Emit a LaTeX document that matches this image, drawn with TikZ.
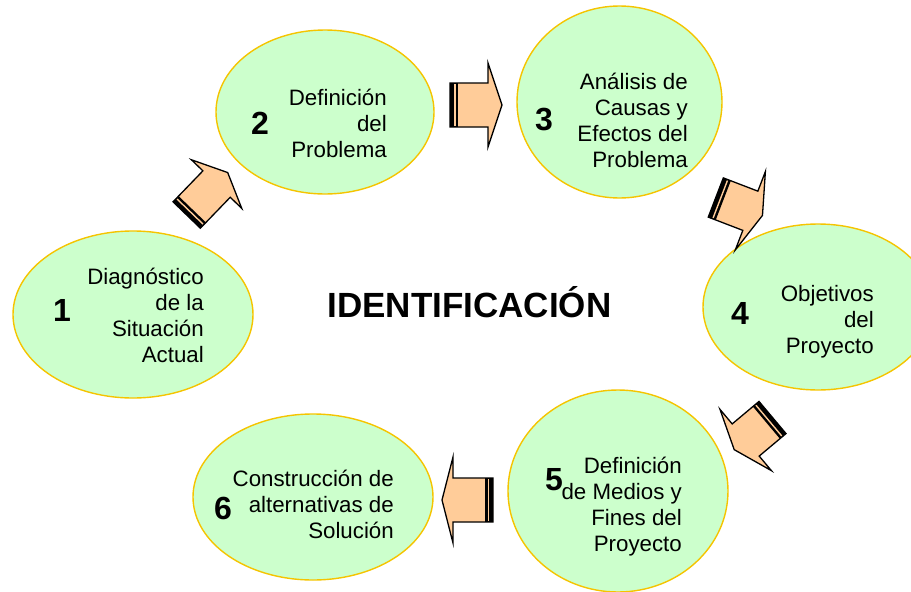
\documentclass[tikz,border=0pt]{standalone}
\usepackage{fontspec}
\setmainfont{Liberation Sans}
\usetikzlibrary{shapes.geometric}
\definecolor{nodefill}{HTML}{CCFFCC}
\definecolor{nodeedge}{HTML}{F5C400}
\definecolor{arrowfill}{HTML}{FFCC99}
\tikzset{
  stage/.style={ellipse, draw=nodeedge, fill=nodefill, line width=1.4pt, inner sep=0pt},
  labeltxt/.style={anchor=base east, align=right, inner sep=0pt, font=\fontsize{22.3}{26}\selectfont},
  num/.style={inner sep=0pt, font=\bfseries\fontsize{32}{36}\selectfont},
  maintitle/.style={anchor=base, inner sep=0pt, font=\bfseries\fontsize{35}{40}\selectfont},
  arrbody/.style={fill=arrowfill, draw=black, line width=1.3pt, line join=miter, miter limit=10},
}
% name, x, y, rotation, body length, total length, body half width, head half width
\newcommand{\blockarr}[8]{%
  \begin{scope}[shift={(#2,#3)}, rotate=#4]
    \coordinate (#1) at (0,0);
    \filldraw[arrbody] (0,-#7) -- (#5,-#7) -- (#5,-#8) -- (#6,0) -- (#5,#8) -- (#5,#7) -- (0,#7) -- cycle;
    \fill[black] (0,-#7) rectangle (8,#7);
    \draw[arrowfill, line width=1.4pt] (4.8,-#7+1) -- (4.8,#7-1);
  \end{scope}}
\begin{document}
\begin{tikzpicture}[x=1pt, y=-1pt]
\useasboundingbox (0,0) rectangle (911,592);
\clip (0,0) rectangle (911,592);
% stages
\node[stage, minimum width=240, minimum height=167] (e1) at (133,314.5) {};
\node[stage, minimum width=218, minimum height=164] (e2) at (325,112) {};
\node[stage, minimum width=205, minimum height=192] (e3) at (619.5,102) {};
\node[stage, minimum width=230, minimum height=166] (e4) at (818,307) {};
\node[stage, minimum width=220, minimum height=202] (e5) at (618,491) {};
\node[stage, minimum width=240, minimum height=166] (e6) at (313,497) {};
% labels (anchored at the baseline of the last line)
\node[labeltxt] (t1) at (204,362) {Diagnóstico\\de la\\Situación\\Actual};
\node[labeltxt] (t2) at (387,157) {Definición\\del\\Problema};
\node[labeltxt] (t3) at (688,167) {Análisis de\\Causas y\\Efectos del\\Problema};
\node[labeltxt] (t4) at (874,353) {Objetivos\\del\\Proyecto};
\node[labeltxt] (t5) at (682,551) {Definición\\de Medios y\\Fines del\\Proyecto};
\node[labeltxt] (t6) at (394,538) {Construcción de\\alternativas de\\Solución};
% numbers
\node[num] (n1) at (62,310) {1};
\node[num] (n2) at (260,123) {2};
\node[num] (n3) at (544,120) {3};
\node[num] (n4) at (740,313) {4};
\node[num] (n5) at (554,480) {5};
\node[num] (n6) at (223,508) {6};
% title
\node[maintitle] (title) at (469.5,317) {IDENTIFICACIÓN};
% block arrows
\blockarr{a1}{186.7}{215}{46}{43}{59}{19}{35}
\blockarr{a2}{450}{105}{0}{38}{52}{22}{42}
\blockarr{a3}{715.8}{197.5}{-21}{37}{50}{21}{42}
\blockarr{a4}{772.5}{417.5}{220}{35}{50}{21}{40}
\blockarr{a5}{493}{500}{180}{40}{51}{22}{43}
\end{tikzpicture}
\end{document}
